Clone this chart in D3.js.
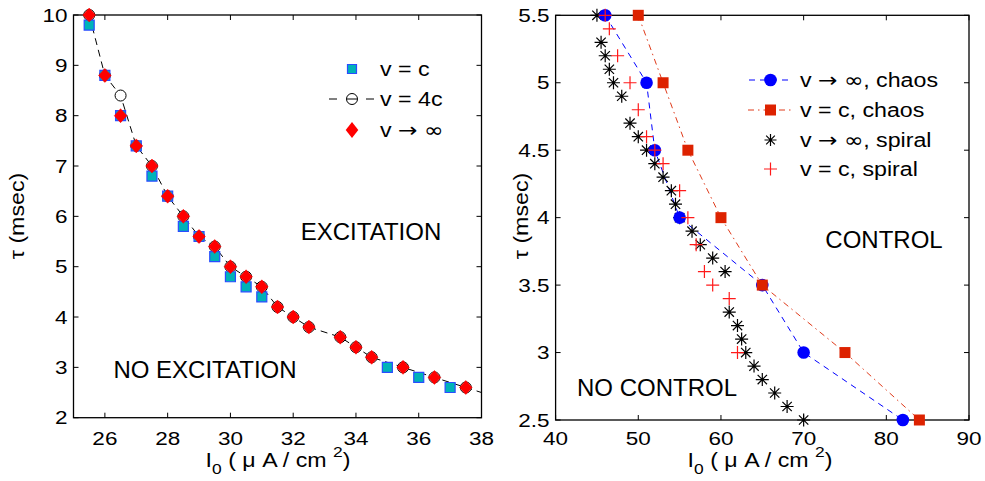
<!DOCTYPE html>
<html><head><meta charset="utf-8">
<script src="https://cdn.jsdelivr.net/npm/d3@7"></script>
<style>body{margin:0;background:#fff}text{font-family:"Liberation Sans",Arial,sans-serif;fill:#000}</style>
</head><body><svg id="c" width="985" height="481"></svg>
<script>
// ---- Left panel data ----
const vcX   = [25.5,26,26.5,27,27.5,28,28.5,29,29.5,30,30.5,31,35,36,37];
const vcY   = [9.8,8.8,8.0,7.4,6.8,6.4,5.8,5.6,5.2,4.8,4.6,4.4,3.0,2.8,2.6];
const v4cX  = [25.5,26,26.5,27,27.5,28,28.5,29,29.5,30,30.5,31,31.5,32,32.5,33.5,34,34.5,35.5,36.5,37.5,38];
const v4cY  = [10,8.8,8.4,7.4,7.0,6.4,6.0,5.6,5.4,5.0,4.8,4.6,4.2,4.0,3.8,3.6,3.4,3.2,3.0,2.8,2.6,2.5];
const vinfX = [25.5,26,26.5,27,27.5,28,28.5,29,29.5,30,30.5,31,31.5,32,32.5,33.5,34,34.5,35.5,36.5,37.5];
const vinfY = [10,8.8,8.0,7.4,7.0,6.4,6.0,5.6,5.4,5.0,4.8,4.6,4.2,4.0,3.8,3.6,3.4,3.2,3.0,2.8,2.6];
const leftXTicks = [26,28,30,32,34,36,38];
const leftYTicks = [2,3,4,5,6,7,8,9,10];

// ---- Right panel data ----
const chaosInfX = [46,51,52,55,65,70,82];
const chaosInfY = [5.5,5.0,4.5,4.0,3.5,3.0,2.5];
const chaosCX   = [50,53,56,60,65,75,84];
const chaosCY   = [5.5,5.0,4.5,4.0,3.5,3.0,2.5];
const spiralInfX = [45,45.5,46,46.5,47,48,49,50,51,52,53,54,54.5,55,56.5,57.5,59,60.5,61,62,62.5,63,64,65,66.5,68,70];
const spiralInfY = [5.5,5.3,5.2,5.1,5.0,4.9,4.7,4.6,4.5,4.4,4.3,4.2,4.1,4.0,3.9,3.8,3.7,3.6,3.3,3.2,3.1,3.0,2.9,2.8,2.7,2.6,2.5];
const spiralCX  = [46,46.5,47.5,49,50,51,52,53,55,56,57,58,59,61,62];
const spiralCY  = [5.5,5.4,5.2,5.0,4.8,4.6,4.5,4.4,4.2,4.0,3.8,3.6,3.5,3.4,3.0];
const rightXTicks = [40,50,60,70,80,90];
const rightYTicks = [2.5,3,3.5,4,4.5,5,5.5];

const svg = d3.select("#c");
const TICK_FS = 18, TICK_SX = 1.25;
const LAB_FS = 20, LAB_SX = 1.16;
const LEG_FS = 20, LEG_SX = 1.16;
const SYM = '"DejaVu Sans",sans-serif';

function zip(xs, ys){ return xs.map((x,i)=>({x, y: ys[i]})); }

function stext(g, x, y, fs, sx, anchor){
  return g.append("text").attr("transform",`translate(${x},${y}) scale(${sx},1)`)
    .attr("text-anchor",anchor).attr("font-size",fs);
}

function drawAxes(g, x, y, xt, yt){
  const [x0,x1] = x.range(), [y1,y0] = y.range();
  const tl = 5;
  g.append("rect").attr("x",x0).attr("y",y0).attr("width",x1-x0).attr("height",y1-y0)
    .attr("fill","none").attr("stroke","#000").attr("stroke-width",1.3);
  xt.forEach(t=>{
    const px = x(t);
    g.append("line").attr("x1",px).attr("x2",px).attr("y1",y1).attr("y2",y1-tl).attr("stroke","#000");
    g.append("line").attr("x1",px).attr("x2",px).attr("y1",y0).attr("y2",y0+tl).attr("stroke","#000");
    stext(g, px, 445, TICK_FS, TICK_SX, "middle").text(t);
  });
  yt.forEach(t=>{
    const py = y(t);
    g.append("line").attr("x1",x0).attr("x2",x0+tl).attr("y1",py).attr("y2",py).attr("stroke","#000");
    g.append("line").attr("x1",x1).attr("x2",x1-tl).attr("y1",py).attr("y2",py).attr("stroke","#000");
    stext(g, x0-6, py+6.5, TICK_FS, TICK_SX, "end").text(t);
  });
}

function xLabel(g, cx, cy){
  const t = stext(g, cx, cy, LAB_FS, LAB_SX, "middle");
  t.append("tspan").text("I");
  t.append("tspan").attr("dy",7).attr("font-size",15).text("0");
  t.append("tspan").attr("dy",-7).text(" ( μ A / cm ");
  t.append("tspan").attr("dy",-10).attr("font-size",15).text("2");
  t.append("tspan").attr("dy",10).text(")");
}
function yLabel(g, cx, cy){
  g.append("text").attr("transform",`translate(${cx},${cy}) rotate(-90) scale(${LAB_SX},1)`).attr("text-anchor","middle")
    .attr("font-size",LAB_FS).text("τ (msec)");
}
function legText(g, x, y, parts){
  const t = stext(g, x, y, LEG_FS, LEG_SX, "start");
  parts.forEach(p => {
    const s = t.append("tspan").text(p.t);
    if (p.sym) s.attr("font-family", SYM);
  });
}

const sqPath = s => `M${-s},${-s}H${s}V${s}H${-s}Z`;
const diaPath = (w,h) => `M0,${-h}L${w},0L0,${h}L${-w},0Z`;
const starPath = r => { const d=r*0.72; return `M${-r},0H${r}M0,${-r}V${r}M${-d},${-d}L${d},${d}M${-d},${d}L${d},${-d}`; };
const plusPath = r => `M${-r},0H${r}M0,${-r}V${r}`;

// ================= LEFT =================
const xL = d3.scaleLinear().domain([25,38]).range([73.5,481.5]);
const yL = d3.scaleLinear().domain([2,10]).range([417.7,15]);
const gL = svg.append("g");
drawAxes(gL, xL, yL, leftXTicks, leftYTicks);
xLabel(gL, 278, 467);
yLabel(gL, 24, 216);

const lineL = d3.line().x(d=>xL(d.x)).y(d=>yL(d.y));
const d4c = zip(v4cX, v4cY);
gL.append("path").attr("d", lineL(d4c)).attr("fill","none").attr("stroke","#000")
  .attr("stroke-width",1).attr("stroke-dasharray","7,5");
gL.selectAll(".c4").data(d4c.slice(0,-1)).join("circle")
  .attr("cx",d=>xL(d.x)).attr("cy",d=>yL(d.y)).attr("r",5.5)
  .attr("fill","#fff").attr("stroke","#000").attr("stroke-width",1);
gL.selectAll(".sq").data(zip(vcX,vcY)).join("path")
  .attr("transform",d=>`translate(${xL(d.x)},${yL(d.y)})`).attr("d",sqPath(5))
  .attr("fill","#00b3b8").attr("stroke","#2a4cff").attr("stroke-width",1.2);
gL.selectAll(".di").data(zip(vinfX,vinfY)).join("path")
  .attr("transform",d=>`translate(${xL(d.x)},${yL(d.y)})`).attr("d",diaPath(6.3,7))
  .attr("fill","#ff0000").attr("stroke","#ff0000").attr("stroke-width",0.5);

// left legend
const lgL = gL.append("g");
lgL.append("path").attr("transform","translate(352,69)").attr("d",sqPath(4.5))
  .attr("fill","#00b3b8").attr("stroke","#2a4cff").attr("stroke-width",1.2);
legText(lgL, 380, 76, [{t:"v = c"}]);
lgL.append("line").attr("x1",329).attr("x2",337).attr("y1",99).attr("y2",99).attr("stroke","#000");
lgL.append("line").attr("x1",366).attr("x2",374).attr("y1",99).attr("y2",99).attr("stroke","#000");
lgL.append("circle").attr("cx",352).attr("cy",99).attr("r",5.5).attr("fill","#fff").attr("stroke","#000");
lgL.append("line").attr("x1",347).attr("x2",357).attr("y1",99).attr("y2",99).attr("stroke","#000");
legText(lgL, 380, 106, [{t:"v = 4c"}]);
lgL.append("path").attr("transform","translate(352,130)").attr("d",diaPath(6.3,8)).attr("fill","#ff0000");
legText(lgL, 380, 137, [{t:"v "},{t:"→",sym:true},{t:" "},{t:"∞",sym:true}]);

gL.append("text").attr("x",371).attr("y",240).attr("text-anchor","middle").attr("font-size",24).text("EXCITATION");
gL.append("text").attr("x",205).attr("y",378).attr("text-anchor","middle").attr("font-size",24).text("NO EXCITATION");

// ================= RIGHT =================
const xR = d3.scaleLinear().domain([40,90]).range([555.6,969]);
const yR = d3.scaleLinear().domain([2.5,5.5]).range([420,15.3]);
const gR = svg.append("g");
drawAxes(gR, xR, yR, rightXTicks, rightYTicks);
xLabel(gR, 760, 467);
yLabel(gR, 528, 216);

const lineR = d3.line().x(d=>xR(d.x)).y(d=>yR(d.y));
gR.append("path").attr("d", lineR(zip(chaosInfX,chaosInfY))).attr("fill","none")
  .attr("stroke","#0000ff").attr("stroke-width",1).attr("stroke-dasharray","6,5");
gR.append("path").attr("d", lineR(zip(chaosCX,chaosCY))).attr("fill","none")
  .attr("stroke","#e03a1a").attr("stroke-width",1).attr("stroke-dasharray","6,4,1.5,4");
gR.selectAll(".st").data(zip(spiralInfX,spiralInfY)).join("path")
  .attr("transform",d=>`translate(${xR(d.x)},${yR(d.y)})`).attr("d",starPath(6.5))
  .attr("fill","none").attr("stroke","#000").attr("stroke-width",1.2);
gR.selectAll(".bc").data(zip(chaosInfX,chaosInfY)).join("circle")
  .attr("cx",d=>xR(d.x)).attr("cy",d=>yR(d.y)).attr("r",6.3).attr("fill","#0000ff");
gR.selectAll(".rs").data(zip(chaosCX,chaosCY)).join("path")
  .attr("transform",d=>`translate(${xR(d.x)},${yR(d.y)})`).attr("d",sqPath(5.5)).attr("fill","#dd2200");
gR.selectAll(".pl").data(zip(spiralCX,spiralCY)).join("path")
  .attr("transform",d=>`translate(${xR(d.x)},${yR(d.y)})`).attr("d",plusPath(6.5))
  .attr("fill","none").attr("stroke","#ff1a1a").attr("stroke-width",1.2);

// right legend
const lgR = gR.append("g");
const lx0 = 748, lx1 = 793, lm = 770.5;
lgR.append("line").attr("x1",lx0).attr("x2",lx1).attr("y1",80).attr("y2",80).attr("stroke","#0000ff").attr("stroke-dasharray","6,5").attr("stroke-dashoffset",-1);
lgR.append("circle").attr("cx",lm).attr("cy",80).attr("r",6.3).attr("fill","#0000ff");
legText(lgR, 800, 87, [{t:"v "},{t:"→",sym:true},{t:" "},{t:"∞",sym:true},{t:", chaos"}]);
lgR.append("line").attr("x1",lx0).attr("x2",lx1).attr("y1",110).attr("y2",110).attr("stroke","#e03a1a").attr("stroke-dasharray","6,4,1.5,4");
lgR.append("path").attr("transform",`translate(${lm},110)`).attr("d",sqPath(5.5)).attr("fill","#dd2200");
legText(lgR, 800, 117, [{t:"v = c, chaos"}]);
lgR.append("path").attr("transform",`translate(${lm},140)`).attr("d",starPath(6)).attr("stroke","#000").attr("stroke-width",1.2);
legText(lgR, 800, 147, [{t:"v "},{t:"→",sym:true},{t:" "},{t:"∞",sym:true},{t:", spiral"}]);
lgR.append("path").attr("transform",`translate(${lm},169)`).attr("d",plusPath(6.5)).attr("stroke","#ff1a1a").attr("stroke-width",1.2);
legText(lgR, 800, 176, [{t:"v = c, spiral"}]);

gR.append("text").attr("x",884).attr("y",248).attr("text-anchor","middle").attr("font-size",24).text("CONTROL");
gR.append("text").attr("x",657).attr("y",396).attr("text-anchor","middle").attr("font-size",24).text("NO CONTROL");
</script></body></html>
